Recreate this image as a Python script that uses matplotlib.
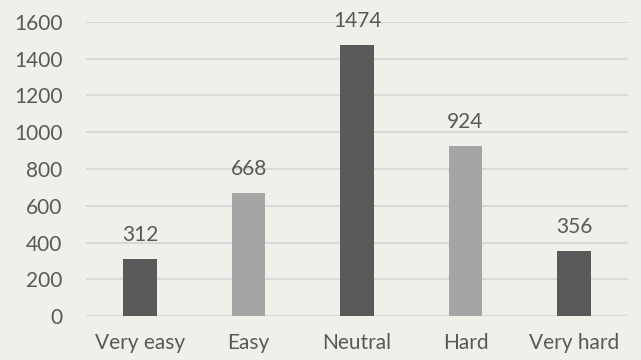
import matplotlib.pyplot as plt
import numpy as np

categories = ["Very easy", "Easy", "Neutral", "Hard", "Very hard"]
counts = [312, 668, 1474, 924, 356]
bar_colors = ["#595959", "#a5a5a5", "#595959", "#a5a5a5", "#595959"]
y_ticks = [0, 200, 400, 600, 800, 1000, 1200, 1400, 1600]

plt.rcParams["font.family"] = ["Lato", "DejaVu Sans"]
text_color = "#595959"
bg = "#edf1e9"

fig = plt.figure(figsize=(6.41, 3.6), dpi=100, facecolor=bg)
ax = fig.add_axes([0.134, 0.122, 0.846, 0.817], facecolor=bg)

x = np.arange(len(categories))
bars = ax.bar(x, counts, width=0.31, color=bar_colors, zorder=3)

# value labels above each bar
for b, v in zip(bars, counts):
    ax.annotate(str(v), (b.get_x() + b.get_width() / 2, v), xytext=(0, 10),
                textcoords="offset points", ha="center", va="bottom",
                fontsize=15, color=text_color)

ax.set_xlim(-0.5, len(categories) - 0.5)
ax.set_ylim(0, 1600)
ax.set_yticks(y_ticks)
ax.set_xticks(x)
ax.set_xticklabels(categories)
ax.yaxis.grid(True, color="#d9d9d9", linewidth=1.5, zorder=0)
for s in ax.spines.values():
    s.set_visible(False)
ax.axhline(0, color="#d9d9d9", linewidth=1.5, zorder=2)
ax.tick_params(length=0, labelsize=15, labelcolor=text_color)
ax.tick_params(axis="y", pad=17)
ax.tick_params(axis="x", pad=12)

plt.savefig("out.png", dpi=100, facecolor=bg)
